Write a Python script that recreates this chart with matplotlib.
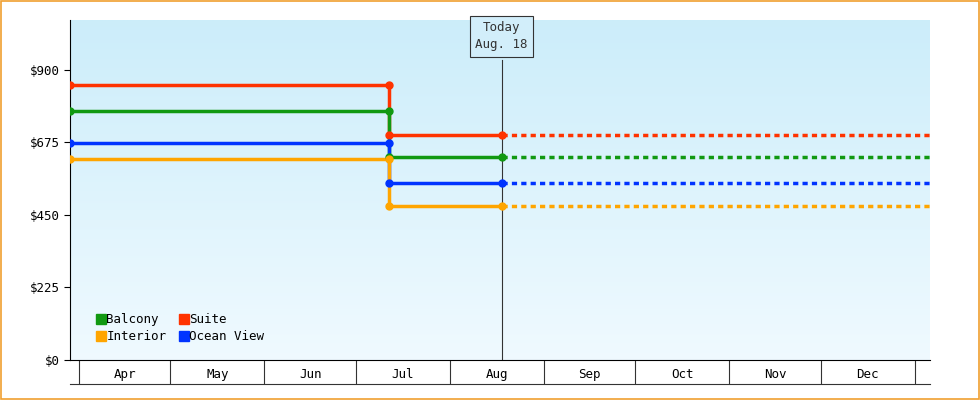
import matplotlib
matplotlib.use("Agg")
import matplotlib.pyplot as plt
import matplotlib.dates as mdates
import numpy as np
from datetime import date

plt.rcParams['font.family'] = ['DejaVu Sans Mono']

start = date(2024, 3, 29)
change = date(2024, 7, 12)
today = date(2024, 8, 18)
end = date(2025, 1, 6)

cats = ['Suite', 'Balcony', 'Ocean View', 'Interior']
colors = {'Suite': '#ff3300', 'Balcony': '#119911', 'Ocean View': '#0033ff', 'Interior': '#ffa500'}
before = {'Suite': 853, 'Balcony': 773, 'Ocean View': 673, 'Interior': 624}
after = {'Suite': 698, 'Balcony': 630, 'Ocean View': 549, 'Interior': 478}
months = ['Apr', 'May', 'Jun', 'Jul', 'Aug', 'Sep', 'Oct', 'Nov', 'Dec']
yticks = [0, 225, 450, 675, 900]

fig = plt.figure(figsize=(9.8, 4.0), dpi=100)
fig.patches.append(plt.Rectangle((0.001, 0.0015), 0.998, 0.996, transform=fig.transFigure,
                                 fill=False, edgecolor='#f0a030', lw=1.2))
ax = fig.add_axes([70/980, 40/400, 860/980, 340/400])
x0, x1 = mdates.date2num(start), mdates.date2num(end)
ax.set_xlim(x0, x1)
ax.set_ylim(0, 1055)

# gradient background
grad = np.linspace(0, 1, 256).reshape(-1, 1)
top = np.array([0.80, 0.93, 0.98]); bot = np.array([0.94, 0.98, 1.0])
img = bot + (top - bot) * grad
ax.imshow(img[:, None, :].repeat(2, axis=1), extent=[x0, x1, 0, 1055], origin='lower',
          aspect='auto', zorder=0)

cs, ct = mdates.date2num(change), mdates.date2num(today)
for c in cats:
    col = colors[c]
    ax.plot([x0, cs, cs, ct], [before[c], before[c], after[c], after[c]], color=col, lw=2.5, zorder=3)
    ax.plot([ct, x1], [after[c], after[c]], color=col, lw=2.5, ls=(0, (1.5, 1.2)), zorder=3)
    ax.plot([x0, cs, cs, ct], [before[c], before[c], after[c], after[c]], 'o', color=col, ms=5, zorder=4)
ax.plot([ct, ct], [0, 930], color='#333333', lw=0.8, zorder=2)
ax.text(ct, 958, 'Today\nAug. 18', ha='center', va='bottom', fontsize=9, color='#333333',
        linespacing=1.4, bbox=dict(boxstyle='square,pad=0.45', fc='#d2eefa', ec='#333333', lw=0.8))

ax.set_yticks(yticks)
ax.set_yticklabels(['$' + format(v, ',') for v in yticks], fontsize=9)
mstarts = [mdates.date2num(date(2024, m, 1)) for m in range(4, 13)] + [mdates.date2num(date(2025, 1, 1))]
ax.set_xticks(mstarts)
ax.set_xticklabels([])
ax.tick_params(axis='x', length=17.6, width=0.8, color='#333333')
ax.tick_params(axis='y', length=4, width=0.8)
ax.set_xticks([(a + b) / 2 for a, b in zip(mstarts[:-1], mstarts[1:])], minor=True)
ax.set_xticklabels(months, minor=True, fontsize=9)
ax.tick_params(axis='x', which='minor', length=0, pad=6)
ax.plot([x0, x1], [-0.072, -0.072], color='#333333', lw=0.8, clip_on=False,
        transform=ax.get_xaxis_transform())
for s in ['top', 'right']:
    ax.spines[s].set_visible(False)

handles = [plt.Line2D([], [], marker='s', ls='', color=colors[c], ms=7) for c in ['Balcony', 'Interior', 'Suite', 'Ocean View']]
ax.legend(handles, ['Balcony', 'Interior', 'Suite', 'Ocean View'], ncol=2, loc='lower left',
          frameon=False, fontsize=9, handletextpad=-0.2, columnspacing=0.8, handlelength=1.2,
          labelspacing=0.3, borderaxespad=0, bbox_to_anchor=(0.022, 0.035))
fig.savefig('out.png', dpi=100)
